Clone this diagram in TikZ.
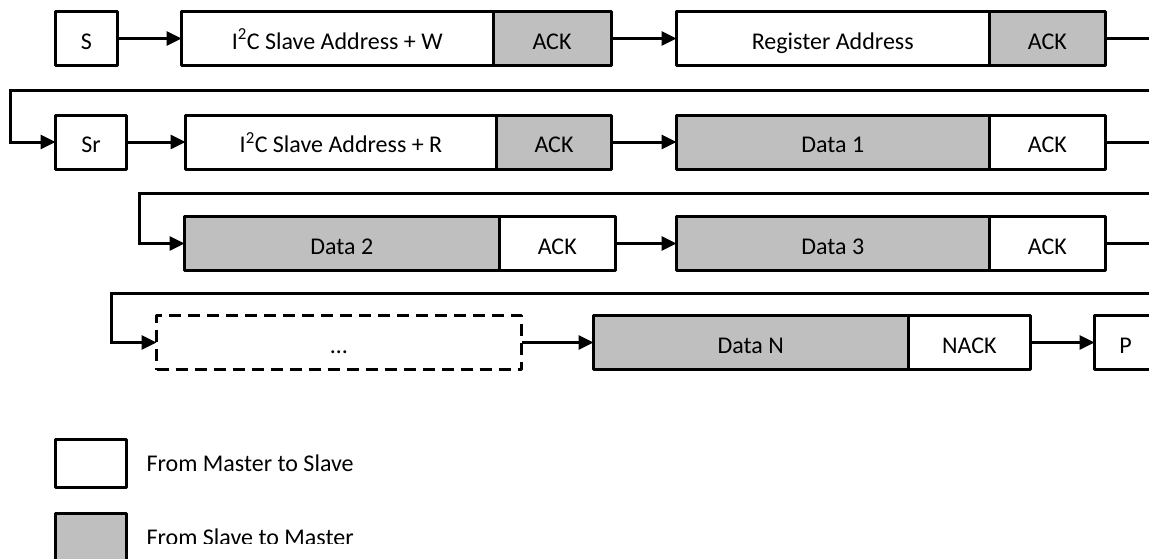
\documentclass[tikz,border=0pt]{standalone}
\usepackage{fontspec}
\setmainfont{Carlito}
\usepackage{tikz}
\usetikzlibrary{arrows.meta,positioning}
\definecolor{slavegray}{RGB}{191,191,191}
\tikzstyle{field} = [draw, line width=3pt, line join=round, minimum height=54pt, inner sep=0pt, outer sep=0pt, text height=23pt, text depth=2pt, anchor=west]
\tikzstyle{dashbox} = [dash pattern=on 12pt off 7pt]
\tikzstyle{legend} = [inner sep=0pt, text height=17pt, text depth=2pt, anchor=west]
\tikzstyle{arrow} = [line width=3pt, -{Triangle[length=15pt,width=14pt]}]

\begin{document}
\begin{tikzpicture}[x=1pt, y=-1pt, font=\fontsize{24}{29}\selectfont]
\useasboundingbox (0,0) rectangle (1149,558);
\clip (0,0) rectangle (1149,558);

% Row 1: write register address
\node[field, minimum width=62pt] (start) at (55.5,38.5) {S};
\node[field, minimum width=311.5pt] (addrw) at (181.5,38.5) {I\textsuperscript{2}C Slave Address + W};
\node[field, fill=slavegray, minimum width=118pt, right=0pt of addrw] (ackw) {ACK};
\node[field, minimum width=312.5pt] (reg) at (676.5,38.5) {Register Address};
\node[field, fill=slavegray, minimum width=116.5pt, right=0pt of reg] (ackreg) {ACK};

% Row 2: repeated start, read
\node[field, minimum width=71pt] (restart) at (55.5,142) {Sr};
\node[field, minimum width=311pt] (addrr) at (185.5,142) {I\textsuperscript{2}C Slave Address + R};
\node[field, fill=slavegray, minimum width=115pt, right=0pt of addrr] (ackr) {ACK};
\node[field, fill=slavegray, minimum width=312.5pt] (data1) at (676.5,142) {Data 1};
\node[field, minimum width=116.5pt, right=0pt of data1] (ack1) {ACK};

% Row 3
\node[field, fill=slavegray, minimum width=314.5pt] (data2) at (184.5,243.5) {Data 2};
\node[field, minimum width=116.5pt, right=0pt of data2] (ack2) {ACK};
\node[field, fill=slavegray, minimum width=312.5pt] (data3) at (676.5,243.5) {Data 3};
\node[field, minimum width=116.5pt, right=0pt of data3] (ack3) {ACK};

% Row 4: last byte and stop
\node[field, dashbox, minimum width=365pt] (more) at (156.5,342.5) {…};
\node[field, fill=slavegray, minimum width=314.5pt] (datan) at (593.5,342.5) {Data N};
\node[field, minimum width=122.5pt, right=0pt of datan] (nack) {NACK};
\node[field, minimum width=62pt] (stop) at (1094.5,342.5) {P};

% Legend
\node[field, minimum width=71pt, minimum height=48pt] (keymaster) at (55.5,463.5) {};
\node[legend, right=20pt of keymaster] (keymastertext) {From Master to Slave};
\node[field, fill=slavegray, minimum width=71pt, minimum height=48pt] (keyslave) at (55.5,537.5) {};
\begin{scope}
  \clip (140,500) rectangle (420,543);
  \node[legend, right=20pt of keyslave] (keyslavetext) {From Slave to Master};
\end{scope}

% Turn points at the line ends
\coordinate (turn1a) at (1175,90.5);
\coordinate (turn1b) at (10.5,90.5);
\coordinate (turn2a) at (1175,193);
\coordinate (turn2b) at (139.5,193);
\coordinate (turn3a) at (1175,293);
\coordinate (turn3b) at (111.5,293);

% Connectors
\draw[arrow] (start.east) -- (addrw.west);
\draw[arrow] (ackw.east) -- (reg.west);
\draw[arrow] (ackreg.east) -| (turn1a) -- (turn1b) |- (restart.west);
\draw[arrow] (restart.east) -- (addrr.west);
\draw[arrow] (ackr.east) -- (data1.west);
\draw[arrow] (ack1.east) -| (turn2a) -- (turn2b) |- (data2.west);
\draw[arrow] (ack2.east) -- (data3.west);
\draw[arrow] (ack3.east) -| (turn3a) -- (turn3b) |- (more.west);
\draw[arrow] (more.east) -- (datan.west);
\draw[arrow] (nack.east) -- (stop.west);
\end{tikzpicture}
\end{document}
